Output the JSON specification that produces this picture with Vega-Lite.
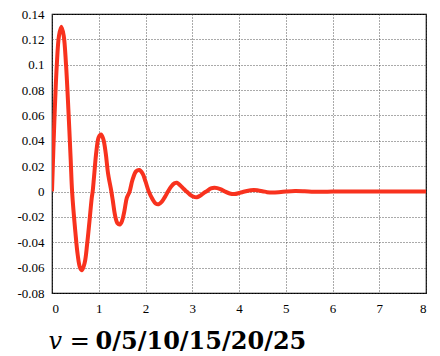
{
  "$schema": "https://vega.github.io/schema/vega-lite/v6.json",
  "width": 374,
  "height": 279,
  "autosize": "none",
  "padding": {"left": 52, "top": 14, "right": 14, "bottom": 63},
  "background": "white",
  "config": {
    "font": "Liberation Serif",
    "view": {"stroke": "#000", "strokeWidth": 1.2},
    "axis": {
      "labelFont": "Liberation Serif",
      "labelFontSize": 13,
      "labelColor": "#000",
      "ticks": false,
      "domain": false,
      "grid": true,
      "gridColor": "#444",
      "gridDash": [1, 2],
      "gridWidth": 1,
      "gridOpacity": 0.9
    }
  },
  "data": {
    "values": [
      {"t": 0, "y": 0},
      {"t": 0.05, "y": 0.055},
      {"t": 0.1, "y": 0.098},
      {"t": 0.15, "y": 0.123},
      {"t": 0.2, "y": 0.13},
      {"t": 0.25, "y": 0.123},
      {"t": 0.3, "y": 0.1},
      {"t": 0.35, "y": 0.065},
      {"t": 0.4, "y": 0.025},
      {"t": 0.43, "y": 0},
      {"t": 0.5, "y": -0.032},
      {"t": 0.55, "y": -0.05},
      {"t": 0.6, "y": -0.06},
      {"t": 0.64, "y": -0.062},
      {"t": 0.7, "y": -0.056},
      {"t": 0.75, "y": -0.042},
      {"t": 0.8, "y": -0.024},
      {"t": 0.85, "y": -0.005},
      {"t": 0.87, "y": 0},
      {"t": 0.9, "y": 0.012},
      {"t": 0.95, "y": 0.032},
      {"t": 1.0, "y": 0.043},
      {"t": 1.05, "y": 0.045},
      {"t": 1.1, "y": 0.041},
      {"t": 1.15, "y": 0.03},
      {"t": 1.2, "y": 0.014},
      {"t": 1.27, "y": 0},
      {"t": 1.3, "y": -0.007},
      {"t": 1.35, "y": -0.019},
      {"t": 1.4, "y": -0.025},
      {"t": 1.45, "y": -0.026},
      {"t": 1.5, "y": -0.023},
      {"t": 1.55, "y": -0.015},
      {"t": 1.6, "y": -0.005},
      {"t": 1.66, "y": 0},
      {"t": 1.72, "y": 0.009},
      {"t": 1.8, "y": 0.016},
      {"t": 1.87, "y": 0.017},
      {"t": 1.94, "y": 0.014},
      {"t": 2.0, "y": 0.008},
      {"t": 2.07, "y": 0},
      {"t": 2.15, "y": -0.006},
      {"t": 2.22, "y": -0.0095},
      {"t": 2.28, "y": -0.01},
      {"t": 2.35, "y": -0.008},
      {"t": 2.42, "y": -0.004},
      {"t": 2.48, "y": 0},
      {"t": 2.55, "y": 0.004},
      {"t": 2.62, "y": 0.0065},
      {"t": 2.67, "y": 0.007},
      {"t": 2.74, "y": 0.005},
      {"t": 2.82, "y": 0.002},
      {"t": 2.88, "y": 0},
      {"t": 2.95, "y": -0.0025},
      {"t": 3.02, "y": -0.004},
      {"t": 3.1, "y": -0.0045},
      {"t": 3.18, "y": -0.003},
      {"t": 3.25, "y": -0.001},
      {"t": 3.3, "y": 0},
      {"t": 3.4, "y": 0.0025},
      {"t": 3.48, "y": 0.003},
      {"t": 3.6, "y": 0.002},
      {"t": 3.7, "y": 0},
      {"t": 3.8, "y": -0.0015},
      {"t": 3.9, "y": -0.002},
      {"t": 4.02, "y": -0.001},
      {"t": 4.12, "y": 0},
      {"t": 4.25, "y": 0.001},
      {"t": 4.32, "y": 0.0012},
      {"t": 4.5, "y": 0.0003},
      {"t": 4.6, "y": -0.0005},
      {"t": 4.72, "y": -0.0008},
      {"t": 4.9, "y": -0.0003},
      {"t": 5.0, "y": 0},
      {"t": 5.2, "y": 0.0004},
      {"t": 5.4, "y": 0.0002},
      {"t": 5.6, "y": -0.0002},
      {"t": 5.8, "y": -0.0002},
      {"t": 6.0, "y": 0},
      {"t": 6.5, "y": 0.0001},
      {"t": 7.0, "y": 0},
      {"t": 7.5, "y": 0},
      {"t": 8.0, "y": 0}
    ]
  },
  "mark": {"type": "line", "color": "#f8321e", "strokeWidth": 4, "interpolate": "catmull-rom", "clip": true},
  "encoding": {
    "x": {
      "field": "t",
      "type": "quantitative",
      "scale": {"domain": [0, 8], "nice": false, "zero": false},
      "axis": {
        "values": [0, 1, 2, 3, 4, 5, 6, 7, 8],
        "labelFont": "Liberation Serif",
        "labelFontSize": 13,
        "labelPadding": 9,
        "title": "0/5/10/15/20/25",
        "titleFont": "DejaVu Serif",
        "titleFontWeight": "bold",
        "titleFontSize": 24,
        "titleColor": "#000",
        "titleAlign": "left",
        "titleBaseline": "alphabetic",
        "titleAnchor": "start",
        "titleX": 43,
        "titleY": 55,
        "encode": {
          "labels": {"update": {"font": {"value": "Liberation Serif"}, "fontSize": {"value": 13}}},
          "title": {"update": {"font": {"value": "DejaVu Serif"}}}
        }
      }
    },
    "y": {
      "field": "y",
      "type": "quantitative",
      "scale": {"domain": [-0.08, 0.14], "nice": false, "zero": false},
      "axis": {
        "values": [-0.08, -0.06, -0.04, -0.02, 0, 0.02, 0.04, 0.06, 0.08, 0.1, 0.12, 0.14],
        "labelExpr": "datum.value + ''",
        "labelFont": "Liberation Serif",
        "labelFontSize": 13,
        "labelPadding": 8,
        "title": "v =",
        "titleFont": "DejaVu Serif",
        "titleFontStyle": "italic",
        "titleFontWeight": "normal",
        "titleFontSize": 24,
        "titleColor": "#000",
        "titleAngle": 0,
        "titleAlign": "left",
        "titleBaseline": "alphabetic",
        "titleX": -4,
        "titleY": 334,
        "encode": {
          "labels": {"update": {"font": {"value": "Liberation Serif"}, "fontSize": {"value": 13}}},
          "title": {"update": {"font": {"value": "DejaVu Serif"}}}
        }
      }
    }
  }
}
